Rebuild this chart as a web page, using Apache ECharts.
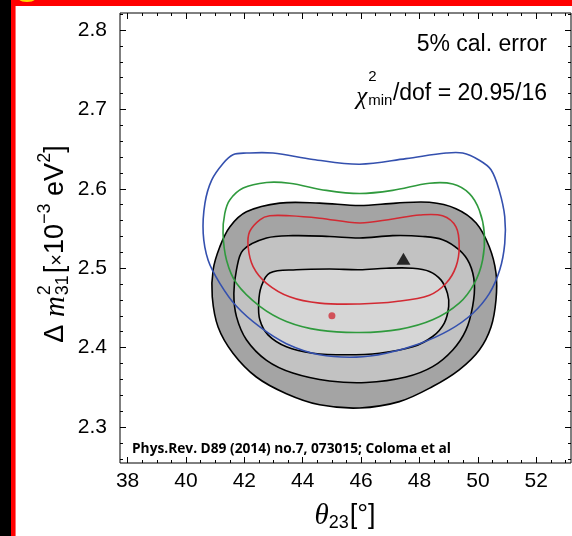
<!DOCTYPE html>
<html><head><meta charset="utf-8">
<script src="https://cdn.jsdelivr.net/npm/echarts@6/dist/echarts.min.js"></script>
<style>html,body{margin:0;padding:0;background:#fff;}#c{width:572px;height:536px;}</style>
</head><body><div id="c"></div>
<script>
// ---- data ----
const xTickLabels = [38, 40, 42, 44, 46, 48, 50, 52];
const yTickLabels = [2.3, 2.4, 2.5, 2.6, 2.7, 2.8];
const xRange = [37.74, 53.19];
const yRange = [2.2547, 2.8214];

// theta23 [deg], dm31^2 [1e-3 eV^2]
const outerContour = [[41.50,2.552],[42.07,2.571],[43.21,2.582],[44.58,2.582],[45.95,2.579],[47.20,2.582],[48.34,2.583],[49.25,2.575],[49.94,2.557],[50.39,2.527],[50.62,2.494],[50.62,2.460],[50.45,2.426],[50.05,2.397],[49.36,2.372],[48.45,2.351],[47.31,2.332],[45.95,2.324],[44.58,2.328],[43.44,2.342],[42.41,2.363],[41.61,2.393],[41.10,2.426],[40.90,2.464],[40.93,2.498],[41.16,2.527]];
const middleContour = [[41.96,2.523],[42.76,2.538],[43.66,2.541],[44.92,2.540],[45.95,2.538],[47.08,2.541],[48.11,2.540],[48.79,2.536],[49.36,2.523],[49.71,2.506],[49.88,2.481],[49.82,2.452],[49.59,2.422],[49.14,2.397],[48.45,2.376],[47.54,2.363],[46.17,2.356],[44.92,2.358],[43.66,2.368],[42.76,2.384],[42.07,2.410],[41.73,2.439],[41.64,2.468],[41.73,2.498]];
const innerContour = [[42.87,2.494],[43.78,2.498],[44.92,2.499],[45.95,2.498],[46.86,2.500],[47.77,2.500],[48.34,2.496],[48.74,2.485],[48.96,2.468],[49.00,2.452],[48.85,2.431],[48.45,2.414],[47.77,2.401],[46.63,2.393],[45.49,2.391],[44.35,2.393],[43.44,2.401],[42.81,2.416],[42.53,2.435],[42.49,2.456],[42.58,2.477]];
const redContour = [[42.53,2.561],[42.87,2.566],[43.55,2.566],[44.58,2.563],[45.95,2.557],[47.08,2.562],[48.00,2.567],[48.79,2.566],[49.25,2.552],[49.36,2.527],[49.25,2.502],[48.91,2.481],[48.34,2.466],[47.20,2.458],[45.95,2.455],[44.58,2.456],[43.55,2.464],[42.76,2.481],[42.30,2.502],[42.13,2.527],[42.18,2.546]];
const greenContour = [[41.50,2.586],[41.96,2.601],[42.76,2.608],[43.55,2.607],[44.81,2.598],[45.95,2.594],[47.08,2.598],[48.34,2.607],[49.14,2.606],[49.71,2.594],[50.05,2.573],[50.22,2.544],[50.16,2.510],[49.88,2.481],[49.36,2.456],[48.45,2.435],[47.31,2.423],[45.95,2.419],[44.58,2.422],[43.44,2.433],[42.53,2.452],[41.73,2.481],[41.39,2.510],[41.27,2.544],[41.33,2.569]];
const blueContour = [[41.27,2.632],[41.61,2.643],[42.07,2.645],[42.98,2.645],[44.35,2.637],[45.95,2.631],[47.54,2.638],[48.91,2.645],[49.48,2.645],[50.05,2.636],[50.45,2.624],[50.73,2.598],[50.92,2.565],[50.92,2.531],[50.75,2.498],[50.39,2.468],[49.82,2.443],[49.02,2.422],[48.00,2.405],[46.86,2.393],[45.83,2.388],[44.58,2.391],[43.44,2.405],[42.53,2.426],[41.73,2.452],[41.16,2.481],[40.76,2.510],[40.59,2.544],[40.65,2.582],[40.88,2.611]];
const bestFitPoint = [[45.0, 2.44]];
const truePoint = [[47.45, 2.512]];

const annotation1 = '5% cal. error';
const annotation2 = '/dof = 20.95/16';
const citation = 'Phys.Rev. D89 (2014) no.7, 073015; Coloma et al';

// ---- helpers ----
const mctx = document.createElement('canvas').getContext('2d');
function tw(text, font) { mctx.font = font; return mctx.measureText(text).width; }

const xMinor = []; for (let i = 0; i <= 30; i++) xMinor.push(+(38 + i * 0.5).toFixed(2));
const yMinor = []; for (let i = 0; i <= 28; i++) yMinor.push(+(2.26 + i * 0.02).toFixed(3));

function contourSeries(name, pts, fill, stroke, lw, z) {
  return {
    type: 'custom', name: name, xAxisIndex: 0, yAxisIndex: 0, z: z,
    data: pts, encode: { x: 0, y: 1 }, silent: true,
    renderItem: function (params, api) {
      if (params.dataIndex !== 0) return null;
      const points = pts.map(p => api.coord(p));
      return { type: 'polygon', shape: { points: points, smooth: 0.35 },
        style: { fill: fill || 'none', stroke: stroke, lineWidth: lw } };
    }
  };
}

const labelStyle = { fontFamily: 'Liberation Sans', fontSize: 21, color: '#000' };
function axis(dim, pos, vals, len, label) {
  const r = dim === 'x' ? xRange : yRange;
  return {
    type: 'value', position: pos, min: r[0], max: r[1], gridIndex: 0,
    axisLine: { show: false }, splitLine: { show: false }, minorTick: { show: false },
    axisTick: { show: true, inside: true, length: len, customValues: vals, lineStyle: { color: '#000', width: 1 } },
    axisLabel: label ? Object.assign({ show: true, customValues: vals, margin: dim === 'x' ? 8 : 13,
      formatter: v => dim === 'x' ? String(Math.round(v)) : (+v).toFixed(1) }, labelStyle) : { show: false }
  };
}

function buildRow(pieces) {
  let x = 0, prevW = 0, prevX = 0;
  const out = [];
  pieces.forEach(p => {
    const w = tw(p.t, p.f);
    let px;
    if (p.stack) { px = prevX; x = prevX + Math.max(prevW, w); }
    else { px = x + (p.gap || 0); x = px + w; prevW = w; prevX = px; }
    out.push({ type: 'text', x: px, y: p.dy || 0,
      style: { text: p.t, font: p.f, fill: '#000', textAlign: 'left', textVerticalAlign: 'middle' } });
  });
  return { children: out, width: x };
}

// Y title
const ys = 27, ysm = 18;
const yRow = buildRow([
  { t: 'Δ ', f: `${ys}px "Liberation Sans"` },
  { t: 'm', f: `italic ${ys + 2}px "Liberation Serif"` },
  { t: '2', f: `${ysm}px "Liberation Sans"`, dy: -11, gap: 1 },
  { t: '31', f: `${ysm}px "Liberation Sans"`, dy: 7, stack: true },
  { t: '[', f: `${ys}px "Liberation Sans"`, gap: 2 },
  { t: '×', f: `${ys - 7}px "Liberation Sans"`, dy: 1 },
  { t: '10', f: `${ys}px "Liberation Sans"` },
  { t: '−3', f: `${ysm}px "Liberation Sans"`, dy: -11 },
  { t: ' eV', f: `${ys}px "Liberation Sans"` },
  { t: '2', f: `${ysm}px "Liberation Sans"`, dy: -11 },
  { t: ']', f: `${ys}px "Liberation Sans"` }
]);
yRow.children.forEach(c => { c.x -= yRow.width / 2; });

// X title
const xRow = buildRow([
  { t: 'θ', f: `italic 29px "Liberation Serif"` },
  { t: '23', f: `18px "Liberation Sans"`, dy: 7 },
  { t: '[°]', f: `27px "Liberation Sans"`, gap: 1 }
]);
xRow.children.forEach(c => { c.x -= xRow.width / 2; });

// chi^2 line
const f2 = '23px "Liberation Sans"';
const wMain = tw(annotation2, f2);
const x0 = 547 - wMain;
const fs = '15px "Liberation Sans"';
const wMin = tw('min', fs);

// citation width fit
const citeBase = 'bold 12px "Open Sans"';
const citeSize = 12 * 319 / tw(citation, citeBase);

const chart = echarts.init(document.getElementById('c'), null, { renderer: 'canvas' });
chart.setOption({
  backgroundColor: '#fff',
  animation: false,
  grid: { left: 120, right: 1, top: 13, bottom: 73, show: true, borderColor: '#000', borderWidth: 1, backgroundColor: 'transparent', outerBoundsMode: 'none' },
  xAxis: [
    axis('x', 'bottom', xTickLabels, 6, true),
    axis('x', 'bottom', xMinor, 3, false),
    axis('x', 'top', xTickLabels, 6, false),
    axis('x', 'top', xMinor, 3, false)
  ],
  yAxis: [
    axis('y', 'left', yTickLabels, 6, true),
    axis('y', 'left', yMinor, 3, false),
    axis('y', 'right', yTickLabels, 6, false),
    axis('y', 'right', yMinor, 3, false)
  ],
  series: [
    contourSeries('outer', outerContour, '#a4a4a4', '#000', 1.6, 1),
    contourSeries('middle', middleContour, '#c2c2c2', '#000', 1.6, 2),
    contourSeries('inner', innerContour, '#d6d6d6', '#000', 1.6, 3),
    contourSeries('red', redContour, null, '#d22a33', 1.6, 4),
    contourSeries('green', greenContour, null, '#2f9a3d', 1.6, 4),
    contourSeries('blue', blueContour, null, '#3450ae', 1.6, 4),
    { type: 'scatter', data: bestFitPoint, symbol: 'circle', symbolSize: 7, itemStyle: { color: '#d0303a' }, z: 6, silent: true },
    { type: 'scatter', data: truePoint, symbol: 'triangle', symbolSize: [14, 12], itemStyle: { color: '#000' }, z: 6, silent: true }
  ],
  graphic: [
    { type: 'rect', shape: { x: 0, y: 0, width: 11, height: 536 }, style: { fill: '#000' }, z: 100 },
    { type: 'rect', shape: { x: 11, y: 0, width: 5, height: 536 }, style: { fill: '#f00' }, z: 100 },
    { type: 'rect', shape: { x: 11, y: 0, width: 561, height: 6 }, style: { fill: '#f00' }, z: 100 },
    { type: 'rect', shape: { x: 15, y: 6, width: 1, height: 530 }, style: { fill: '#ff7070' }, z: 100 },
    { type: 'ellipse', shape: { cx: 27, cy: -1, rx: 8, ry: 3 }, style: { fill: '#ffd800' }, z: 101 },
    { type: 'group', x: 56, y: 244, rotation: Math.PI / 2, children: yRow.children },
    { type: 'group', x: 345, y: 516, children: xRow.children },
    { type: 'text', x: 547, y: 45, style: { text: annotation1, font: '23px "Liberation Sans"', fill: '#000', textAlign: 'right', textVerticalAlign: 'middle' } },
    { type: 'text', x: 547, y: 94, style: { text: annotation2, font: f2, fill: '#000', textAlign: 'right', textVerticalAlign: 'middle' } },
    { type: 'text', x: x0 - 0.5, y: 101, style: { text: 'min', font: fs, fill: '#000', textAlign: 'right', textVerticalAlign: 'middle' } },
    { type: 'text', x: x0 - wMin - 0.5, y: 77, style: { text: '2', font: fs, fill: '#000', textAlign: 'left', textVerticalAlign: 'middle' } },
    { type: 'text', x: x0 - wMin - 1.5, y: 97, style: { text: 'χ', font: 'italic 25px "Liberation Serif"', fill: '#000', textAlign: 'right', textVerticalAlign: 'middle' } },
    { type: 'text', x: 132, y: 449, style: { text: citation, font: `bold ${citeSize.toFixed(2)}px "Open Sans"`, fill: '#000', textAlign: 'left', textVerticalAlign: 'middle' } }
  ]
});
</script>
</body></html>
